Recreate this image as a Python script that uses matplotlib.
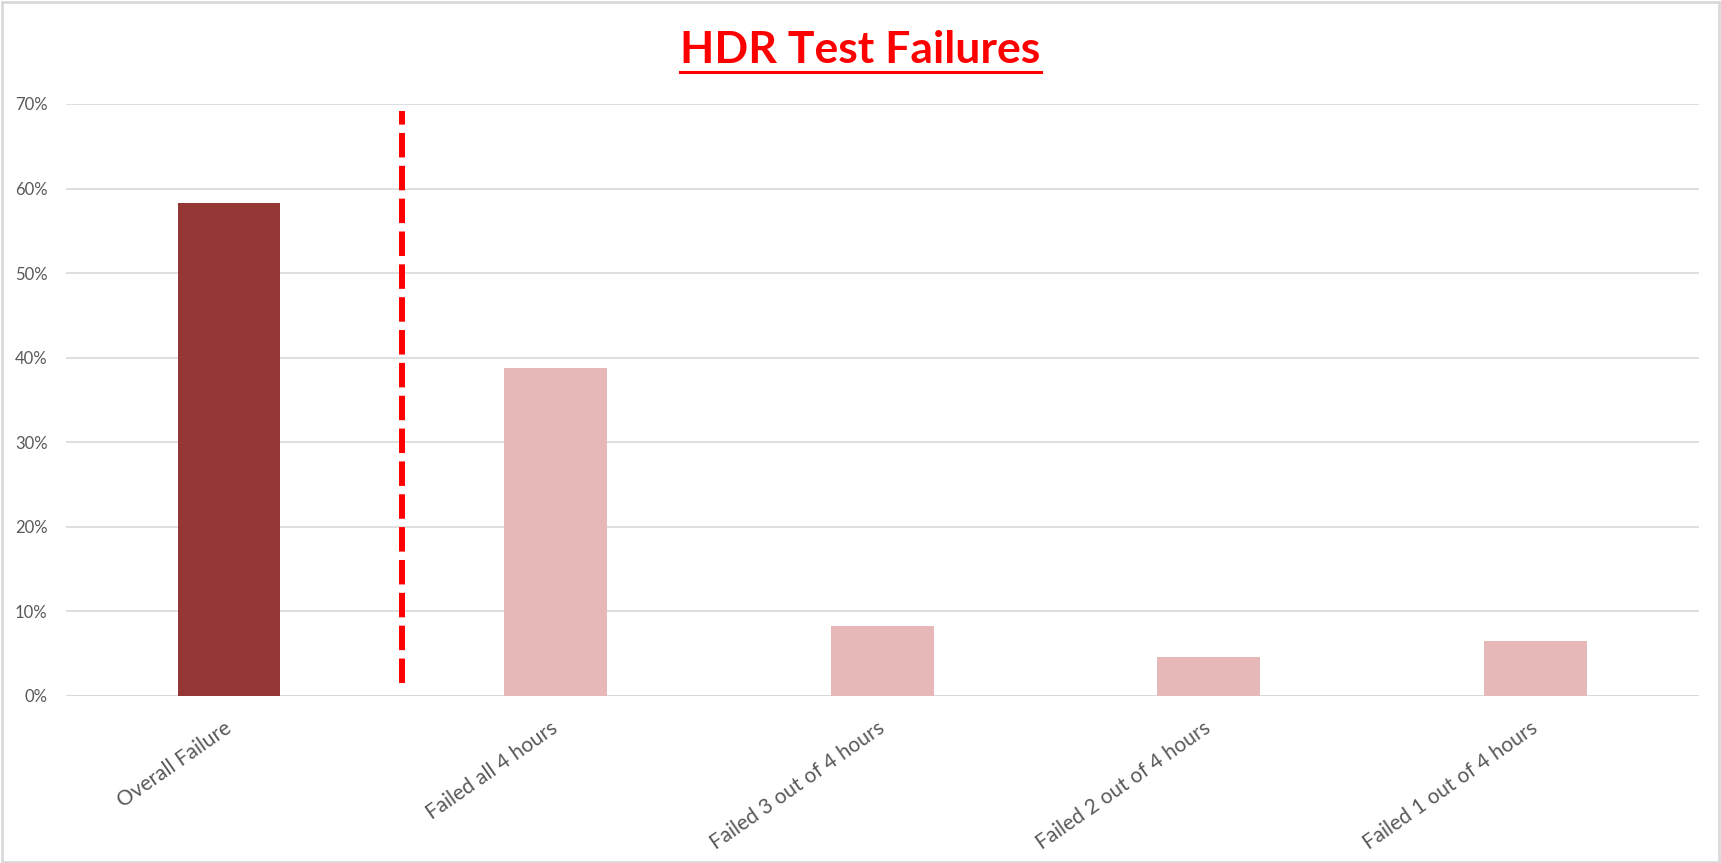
import matplotlib.pyplot as plt
from matplotlib.lines import Line2D
from matplotlib.patches import Rectangle
from matplotlib.ticker import PercentFormatter

categories = ['Overall Failure', 'Failed all 4 hours', 'Failed 3 out of 4 hours',
              'Failed 2 out of 4 hours', 'Failed 1 out of 4 hours']
values = [0.583, 0.388, 0.083, 0.046, 0.065]
colors = ['#943634', '#E6B9B8', '#E6B9B8', '#E6B9B8', '#E6B9B8']
yticks = [0, 0.1, 0.2, 0.3, 0.4, 0.5, 0.6, 0.7]
divider_x = 0.53
divider_y = [0.015, 0.692]

plt.rcParams['font.family'] = ['Lato', 'DejaVu Sans']
text_color = '#595959'
grid_color = '#D9D9D9'

fig = plt.figure(figsize=(17.21, 8.63), dpi=100)
ax = fig.add_axes([0.0382, 0.1939, 0.9488, 0.6856])

x = list(range(len(categories)))
ax.bar(x, values, width=0.315, color=colors, zorder=3)
ax.plot([divider_x, divider_x], divider_y, color='#FF0000', linewidth=4.3,
        linestyle=(0, (4.1, 1.4)), zorder=4, solid_capstyle='butt', dash_capstyle='butt')

ax.set_xlim(-0.5, len(categories) - 0.5)
ax.set_ylim(0, 0.7)
ax.set_yticks(yticks)
ax.yaxis.set_major_formatter(PercentFormatter(1.0, decimals=0))
ax.grid(axis='y', color=grid_color, linewidth=1.2, zorder=0)
ax.axhline(0, color=grid_color, linewidth=2, zorder=2)
for s in ax.spines.values():
    s.set_visible(False)

ax.set_xticks(x)
ax.set_xticklabels(categories, rotation=35, ha='right', va='center',
                   rotation_mode='anchor', fontsize=15, color=text_color)
ax.tick_params(axis='x', length=0, pad=22)
ax.tick_params(axis='y', length=0, pad=13, labelsize=12, labelcolor=text_color)

title = fig.text(0.5, 1 - 50 / 863, 'HDR Test Failures', ha='center', va='center',
                 fontsize=32, fontweight='bold', color='#FF0000')

# underline under the title
fig.canvas.draw()
bb = title.get_window_extent()
uy = bb.y0 - 2
fig.add_artist(Line2D([bb.x0 / 1721, bb.x1 / 1721], [uy / 863, uy / 863],
                      color='#FF0000', linewidth=2.2, transform=fig.transFigure))

# light border round the chart
fig.add_artist(Rectangle((0.001, 0.001), 0.998, 0.997, transform=fig.transFigure,
                         fill=False, edgecolor=grid_color, linewidth=2))

fig.savefig('out.png', dpi=100)
